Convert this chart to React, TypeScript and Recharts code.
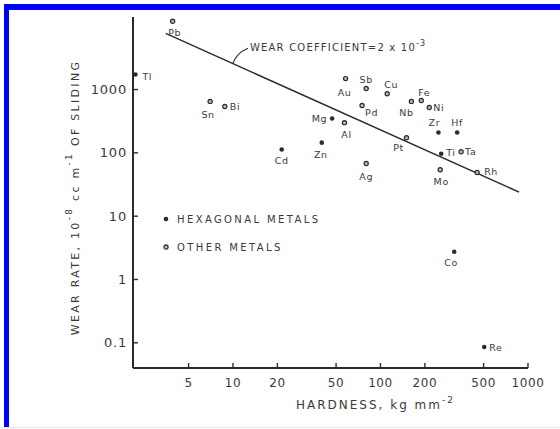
import { ScatterChart, Scatter, XAxis, YAxis, ReferenceDot } from "recharts";

// values (log-log)
const METALS = ["Pb", "Tl", "Sn", "Bi", "Cd", "Zn", "Mg", "Al", "Au", "Sb", "Cu", "Pd", "Ag", "Pt", "Nb", "Fe", "Ni", "Zr", "Hf", "Ti", "Ta", "Mo", "Rh", "Co", "Re"];
const HARDNESS = [3.9, 2.18, 7.0, 8.8, 21.4, 40, 47, 57, 58, 80, 111, 75, 80, 150, 162, 189, 214, 247, 331, 258, 352, 254, 452, 316, 505];
const WEAR_RATE = [12000, 1730, 650, 540, 113, 145, 350, 300, 1490, 1040, 860, 560, 68, 174, 650, 670, 520, 210, 210, 97, 104, 54, 49, 2.75, 0.086];
const HEXAGONAL = ["Tl", "Cd", "Zn", "Mg", "Ti", "Zr", "Hf", "Co", "Re"];

const COEF_H = [3.5, 870];
const COEF_W = [7700, 24];
const COEF_ANCHOR = { h: 10, w: 2600 };

const X_TICKS = [5, 10, 20, 50, 100, 200, 500, 1000];
const Y_TICKS = [0.1, 1, 10, 100, 1000];

const points = METALS.map((name, i) => ({
  name,
  h: HARDNESS[i],
  w: WEAR_RATE[i],
  hex: HEXAGONAL.includes(name),
}));
const hexPoints = points.filter((p) => p.hex);
const otherPoints = points.filter((p) => !p.hex);
const coefLine = COEF_H.map((h, i) => ({ h, w: COEF_W[i] }));

// label placement next to each marker: dx, dy, anchor
const LABEL_OFFSET: Record<string, [number, number, "start" | "middle" | "end"]> = {
  Pb: [2, 11, "middle"],
  Tl: [7, 2, "start"],
  Sn: [-2, 13, "middle"],
  Bi: [5, 0, "start"],
  Cd: [0, 11, "middle"],
  Zn: [-1, 12, "middle"],
  Mg: [-5, 0, "end"],
  Al: [2, 12, "middle"],
  Au: [-1, 14, "middle"],
  Sb: [0, -9, "middle"],
  Cu: [4, -9, "middle"],
  Pd: [3, 7, "start"],
  Ag: [0, 13, "middle"],
  Pt: [-8, 10, "middle"],
  Nb: [-5, 11, "middle"],
  Fe: [3, -8, "middle"],
  Ni: [4, 0, "start"],
  Zr: [-4, -10, "middle"],
  Hf: [0, -10, "middle"],
  Ti: [5, -1, "start"],
  Ta: [4, 0, "start"],
  Mo: [1, 12, "middle"],
  Rh: [7, -1, "start"],
  Co: [-3, 11, "middle"],
  Re: [5, 1, "start"],
};

const INK = "#2b2b2b";
const TEXT = "#3a3a3a";
const FONT = "'DejaVu Sans', sans-serif";

function Marker(props: any) {
  const { cx, cy, payload } = props;
  if (cx == null || cy == null) return <g />;
  const [dx, dy, anchor] = LABEL_OFFSET[payload.name] || [5, 0, "start"];
  return (
    <g>
      {payload.hex ? (
        <circle cx={cx} cy={cy} r={2.3} fill={INK} />
      ) : (
        <circle cx={cx} cy={cy} r={2.1} fill="#bbb" stroke={INK} strokeWidth={1.2} />
      )}
      <text
        x={cx + dx}
        y={cy + dy}
        textAnchor={anchor}
        dominantBaseline="central"
        fontSize={9.5}
        fontFamily={FONT}
        fill={TEXT}
        letterSpacing={0.6}
      >
        {payload.name}
      </text>
    </g>
  );
}

function CoefAnnotation(props: any) {
  const { cx, cy } = props;
  if (cx == null || cy == null) return <g />;
  return (
    <g>
      <path
        d={`M ${cx} ${cy} C ${cx + 2} ${cy - 6}, ${cx + 8} ${cy - 12}, ${cx + 15} ${cy - 15}`}
        stroke={INK}
        strokeWidth={1.1}
        fill="none"
      />
      <text x={cx + 17} y={cy - 12} fontSize={10} fontFamily={FONT} fill={TEXT} letterSpacing={1.2}>
        WEAR COEFFICIENT=2 x 10
        <tspan dy={-5} fontSize={8}>
          -3
        </tspan>
      </text>
    </g>
  );
}

function YTitle({ viewBox }: any) {
  const cx = viewBox.x + 75;
  const cy = viewBox.y + viewBox.height / 2 + 5;
  return (
    <text
      x={cx}
      y={cy}
      transform={`rotate(-90, ${cx}, ${cy})`}
      textAnchor="middle"
      dominantBaseline="central"
      fontSize={11}
      fontFamily={FONT}
      fill={TEXT}
      letterSpacing={2.3}
    >
      WEAR RATE, 10
      <tspan dy={-6} fontSize={9}>-8</tspan>
      <tspan dy={6}> cc m</tspan>
      <tspan dy={-6} fontSize={9}>-1</tspan>
      <tspan dy={6}> OF SLIDING</tspan>
    </text>
  );
}

function XTitle({ viewBox }: any) {
  const cx = viewBox.x + viewBox.width / 2 + 45;
  const cy = viewBox.y + 41;
  return (
    <text
      x={cx}
      y={cy}
      textAnchor="middle"
      fontSize={12}
      fontFamily={FONT}
      fill={TEXT}
      letterSpacing={2}
    >
      HARDNESS, kg mm
      <tspan dy={-6} fontSize={9}>-2</tspan>
    </text>
  );
}

const legendRow = { display: "flex", alignItems: "center", height: 14 } as const;
const legendText = {
  fontFamily: FONT,
  fontSize: 10,
  letterSpacing: 2.4,
  color: TEXT,
  marginLeft: 7,
} as const;

export default function App() {
  return (
    <div style={{ position: "absolute", left: 0, top: 0, width: 560, height: 429, background: "#fff" }}>
      <div
        style={{
          position: "absolute",
          left: 4,
          top: 4,
          width: 550,
          height: 424,
          borderTop: "6px solid #0000ff",
          borderLeft: "5px solid #0000ff",
          boxSizing: "border-box",
        }}
      />
      <div style={{ position: "absolute", left: 4, top: 4, width: 556, height: 6, background: "#0000ff" }} />
      <div style={{ position: "absolute", left: 0, top: 427, width: 560, height: 1, background: "#e4e4f4" }} />
      <div style={{ position: "absolute", left: 0, top: 0 }}>
        <ScatterChart width={560} height={429} margin={{ top: 17, right: 32, bottom: 31, left: 0 }}>
          <XAxis
            dataKey="h"
            type="number"
            scale="log"
            domain={[2.1, 1000]}
            allowDataOverflow
            ticks={X_TICKS}
            height={30}
            tickSize={-5}
            tickMargin={15}
            axisLine={{ stroke: INK, strokeWidth: 1.8 }}
            tickLine={{ stroke: INK, strokeWidth: 1.4 }}
            tick={{ fill: TEXT, fontSize: 12, fontFamily: FONT, letterSpacing: 0.6 }}
            label={{ content: (p: any) => <XTitle viewBox={p.viewBox} /> }}
          />
          <YAxis
            dataKey="w"
            type="number"
            scale="log"
            domain={[0.04, 14000]}
            allowDataOverflow
            ticks={Y_TICKS}
            width={133}
            tickSize={-5}
            tickMargin={11}
            axisLine={{ stroke: INK, strokeWidth: 2 }}
            tickLine={{ stroke: INK, strokeWidth: 1.4 }}
            tick={{ fill: TEXT, fontSize: 13, fontFamily: FONT, letterSpacing: 0.8 }}
            label={{ content: (p: any) => <YTitle viewBox={p.viewBox} /> }}
          />
          <Scatter
            data={coefLine}
            line={{ stroke: INK, strokeWidth: 1.5 }}
            shape={() => <g />}
            isAnimationActive={false}
          />
          <Scatter data={otherPoints} shape={<Marker />} isAnimationActive={false} />
          <Scatter data={hexPoints} shape={<Marker />} isAnimationActive={false} />
          <ReferenceDot x={COEF_ANCHOR.h} y={COEF_ANCHOR.w} shape={<CoefAnnotation />} />
        </ScatterChart>
      </div>
      <div style={{ position: "absolute", left: 162, top: 212 }}>
        <div style={legendRow}>
          <svg width={8} height={8}>
            <circle cx={4} cy={4} r={2.3} fill={INK} />
          </svg>
          <span style={legendText}>HEXAGONAL METALS</span>
        </div>
        <div style={{ ...legendRow, marginTop: 14 }}>
          <svg width={8} height={8}>
            <circle cx={4} cy={4} r={2.1} fill="#bbb" stroke={INK} strokeWidth={1.2} />
          </svg>
          <span style={legendText}>OTHER METALS</span>
        </div>
      </div>
    </div>
  );
}
